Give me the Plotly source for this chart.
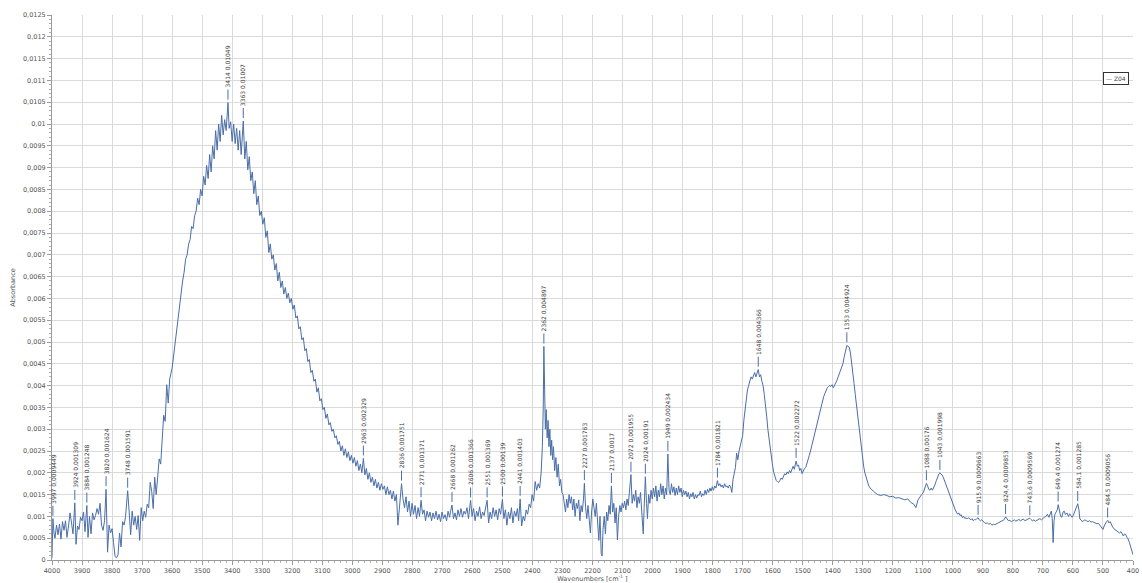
import plotly.graph_objects as go

# ---- spectrum data, (wavenumber cm-1, absorbance) ----
seg_4000_3600 = [
    (4000, 0.00005), (3997, 0.00095), (3993, 0.00060), (3990, 0.00050), (3985, 0.00080),
    (3980, 0.00058), (3975, 0.00082), (3970, 0.00048), (3965, 0.00088), (3960, 0.00068),
    (3955, 0.00090), (3950, 0.00052), (3945, 0.00078), (3940, 0.00108), (3935, 0.00085),
    (3930, 0.00060), (3924, 0.00131), (3920, 0.00036), (3915, 0.00078), (3910, 0.00070),
    (3905, 0.00098), (3900, 0.00090), (3895, 0.00110), (3890, 0.00065), (3884, 0.00125),
    (3880, 0.00052), (3875, 0.00100), (3870, 0.00060), (3865, 0.00108), (3860, 0.00092),
    (3855, 0.00102), (3850, 0.00118), (3845, 0.00105), (3840, 0.00130), (3835, 0.00080),
    (3830, 0.00068), (3825, 0.00090), (3820, 0.00162), (3815, 0.00018), (3810, 0.00080),
    (3805, 0.00062), (3800, 0.00072), (3795, 0.00040), (3790, 0.00008), (3785, 0.00005),
    (3780, 0.00012), (3775, 0.00062), (3770, 0.00030), (3765, 0.00088), (3760, 0.00080),
    (3755, 0.00100), (3748, 0.00159), (3743, 0.00110), (3738, 0.00058), (3733, 0.00112),
    (3728, 0.00080), (3723, 0.00100), (3718, 0.00070), (3713, 0.00102), (3708, 0.00045),
    (3703, 0.00120), (3698, 0.00090), (3693, 0.00112), (3688, 0.00098), (3683, 0.00128),
    (3678, 0.00120), (3673, 0.00178), (3668, 0.00158), (3663, 0.00118), (3658, 0.00190),
    (3653, 0.00150), (3648, 0.00200), (3643, 0.00232), (3638, 0.00220), (3633, 0.00270),
    (3628, 0.00332), (3623, 0.00318), (3618, 0.00402), (3613, 0.00360), (3608, 0.00415),
]

seg_3600_3100 = [
    (3600, 0.00440), (3595, 0.00470), (3590, 0.00500), (3585, 0.00530), (3580, 0.00555),
    (3575, 0.00590), (3570, 0.00610), (3565, 0.00640), (3560, 0.00660), (3555, 0.00690),
    (3550, 0.00700), (3545, 0.00725), (3540, 0.00735), (3535, 0.00765), (3530, 0.00760),
    (3525, 0.00790), (3520, 0.00800), (3515, 0.00830), (3510, 0.00815), (3505, 0.00850),
    (3500, 0.00835), (3495, 0.00880), (3490, 0.00860), (3485, 0.00905), (3480, 0.00875),
    (3475, 0.00930), (3470, 0.00890), (3465, 0.00950), (3460, 0.00920), (3455, 0.00985),
    (3450, 0.00940), (3445, 0.01000), (3440, 0.00960), (3435, 0.01020), (3430, 0.00975),
    (3425, 0.01010), (3420, 0.00985), (3414, 0.01049), (3410, 0.00990), (3405, 0.01005),
    (3400, 0.00960), (3395, 0.01000), (3390, 0.00955), (3385, 0.00990), (3380, 0.00940),
    (3375, 0.00985), (3370, 0.00930), (3363, 0.01007), (3358, 0.00920), (3353, 0.00960),
    (3348, 0.00895), (3343, 0.00925), (3338, 0.00870), (3333, 0.00890), (3328, 0.00840),
    (3323, 0.00870), (3318, 0.00815), (3313, 0.00835), (3308, 0.00790), (3303, 0.00800),
    (3298, 0.00770), (3293, 0.00785), (3288, 0.00740), (3283, 0.00755), (3278, 0.00705),
    (3273, 0.00725), (3268, 0.00690), (3263, 0.00700), (3258, 0.00665), (3253, 0.00680),
    (3248, 0.00640), (3243, 0.00660), (3238, 0.00625), (3233, 0.00640), (3228, 0.00610),
    (3223, 0.00625), (3218, 0.00600), (3213, 0.00612), (3208, 0.00590), (3203, 0.00600),
    (3198, 0.00575), (3193, 0.00585), (3188, 0.00555), (3183, 0.00560), (3178, 0.00530),
    (3173, 0.00535), (3168, 0.00505), (3163, 0.00510), (3158, 0.00480), (3153, 0.00485),
    (3148, 0.00455), (3143, 0.00460), (3138, 0.00430), (3133, 0.00435), (3128, 0.00410),
    (3123, 0.00415), (3118, 0.00385), (3113, 0.00395), (3108, 0.00365), (3103, 0.00370),
]

seg_3100_2400 = [
    (3098, 0.00345), (3093, 0.00350), (3088, 0.00325), (3083, 0.00335), (3078, 0.00310),
    (3073, 0.00315), (3068, 0.00295), (3063, 0.00300), (3058, 0.00280), (3053, 0.00285),
    (3048, 0.00265), (3043, 0.00272), (3038, 0.00250), (3033, 0.00262), (3028, 0.00240),
    (3023, 0.00255), (3018, 0.00235), (3013, 0.00248), (3008, 0.00228), (3003, 0.00240),
    (2998, 0.00222), (2993, 0.00235), (2988, 0.00215), (2983, 0.00228), (2978, 0.00205),
    (2973, 0.00220), (2968, 0.00200), (2963, 0.00233), (2958, 0.00195), (2953, 0.00210),
    (2948, 0.00185), (2943, 0.00200), (2938, 0.00178), (2933, 0.00190), (2928, 0.00170),
    (2923, 0.00185), (2918, 0.00165), (2913, 0.00178), (2908, 0.00160), (2903, 0.00175),
    (2898, 0.00162), (2893, 0.00170), (2888, 0.00150), (2883, 0.00168), (2878, 0.00150),
    (2873, 0.00160), (2868, 0.00140), (2863, 0.00158), (2858, 0.00135), (2853, 0.00150),
    (2848, 0.00080), (2843, 0.00130), (2836, 0.00175), (2831, 0.00140), (2826, 0.00120),
    (2821, 0.00145), (2816, 0.00110), (2811, 0.00135), (2806, 0.00100), (2801, 0.00130),
    (2796, 0.00105), (2791, 0.00125), (2786, 0.00095), (2781, 0.00120), (2776, 0.00100),
    (2771, 0.00137), (2766, 0.00105), (2761, 0.00115), (2756, 0.00090), (2751, 0.00112),
    (2746, 0.00098), (2741, 0.00110), (2736, 0.00090), (2731, 0.00108), (2726, 0.00095),
    (2721, 0.00112), (2716, 0.00092), (2711, 0.00105), (2706, 0.00088), (2701, 0.00110),
    (2696, 0.00095), (2691, 0.00104), (2686, 0.00090), (2681, 0.00112), (2676, 0.00098),
    (2673, 0.00110), (2668, 0.00126), (2663, 0.00095), (2658, 0.00108), (2653, 0.00092),
    (2648, 0.00115), (2643, 0.00100), (2638, 0.00118), (2633, 0.00098), (2628, 0.00112),
    (2623, 0.00105), (2618, 0.00120), (2613, 0.00095), (2606, 0.00137), (2601, 0.00100),
    (2596, 0.00118), (2591, 0.00090), (2586, 0.00112), (2581, 0.00100), (2576, 0.00122),
    (2571, 0.00095), (2566, 0.00110), (2561, 0.00102), (2556, 0.00120), (2551, 0.00137),
    (2546, 0.00085), (2541, 0.00110), (2536, 0.00095), (2531, 0.00120), (2526, 0.00100),
    (2521, 0.00115), (2516, 0.00092), (2511, 0.00118), (2506, 0.00105), (2500, 0.00139),
    (2495, 0.00095), (2490, 0.00115), (2485, 0.00080), (2480, 0.00110), (2475, 0.00095),
    (2470, 0.00120), (2465, 0.00085), (2460, 0.00112), (2455, 0.00100), (2450, 0.00118),
    (2446, 0.00090), (2441, 0.00140), (2436, 0.00078), (2431, 0.00100), (2426, 0.00090),
    (2421, 0.00115), (2416, 0.00105), (2411, 0.00128), (2406, 0.00120), (2401, 0.00150),
]

seg_2400_2000 = [
    (2396, 0.00135), (2391, 0.00180), (2386, 0.00160), (2381, 0.00175), (2376, 0.00165),
    (2371, 0.00200), (2367, 0.00260), (2364, 0.00350), (2362, 0.00490), (2360, 0.00380),
    (2357, 0.00300), (2354, 0.00345), (2351, 0.00280), (2348, 0.00320), (2345, 0.00260),
    (2342, 0.00300), (2339, 0.00240), (2336, 0.00275), (2333, 0.00230), (2330, 0.00260),
    (2326, 0.00205), (2322, 0.00235), (2318, 0.00190), (2314, 0.00220), (2310, 0.00170),
    (2306, 0.00185), (2302, 0.00155), (2298, 0.00150), (2294, 0.00125), (2290, 0.00110),
    (2286, 0.00140), (2282, 0.00120), (2278, 0.00150), (2274, 0.00130), (2270, 0.00145),
    (2266, 0.00115), (2262, 0.00140), (2258, 0.00100), (2254, 0.00130), (2250, 0.00118),
    (2246, 0.00138), (2242, 0.00090), (2238, 0.00125), (2234, 0.00110), (2230, 0.00140),
    (2227, 0.00176), (2223, 0.00120), (2219, 0.00095), (2215, 0.00125), (2211, 0.00080),
    (2207, 0.00062), (2203, 0.00110), (2199, 0.00140), (2195, 0.00120), (2191, 0.00100),
    (2187, 0.00130), (2183, 0.00085), (2179, 0.00045), (2175, 0.00100), (2171, 0.00015),
    (2168, 0.00009), (2165, 0.00070), (2161, 0.00100), (2157, 0.00060), (2153, 0.00110),
    (2149, 0.00090), (2145, 0.00125), (2141, 0.00105), (2137, 0.00170), (2133, 0.00110),
    (2129, 0.00130), (2125, 0.00085), (2121, 0.00120), (2117, 0.00046), (2113, 0.00100),
    (2109, 0.00125), (2105, 0.00110), (2101, 0.00130), (2097, 0.00120), (2093, 0.00135),
    (2089, 0.00115), (2085, 0.00140), (2081, 0.00125), (2077, 0.00150), (2072, 0.00196),
    (2068, 0.00130), (2064, 0.00150), (2060, 0.00135), (2056, 0.00160), (2052, 0.00120),
    (2048, 0.00145), (2044, 0.00130), (2040, 0.00155), (2036, 0.00110), (2031, 0.00060),
    (2028, 0.00120), (2024, 0.00191), (2020, 0.00130), (2017, 0.00095), (2013, 0.00150),
    (2009, 0.00130), (2005, 0.00160), (2001, 0.00140),
]

seg_2000_1300 = [
    (1997, 0.00165), (1993, 0.00145), (1989, 0.00170), (1985, 0.00135), (1981, 0.00160),
    (1977, 0.00145), (1973, 0.00175), (1969, 0.00150), (1965, 0.00170), (1961, 0.00140),
    (1957, 0.00165), (1953, 0.00150), (1949, 0.00243), (1945, 0.00160), (1941, 0.00150),
    (1937, 0.00175), (1933, 0.00155), (1929, 0.00168), (1925, 0.00148), (1921, 0.00165),
    (1917, 0.00150), (1913, 0.00170), (1909, 0.00155), (1905, 0.00165), (1901, 0.00145),
    (1897, 0.00160), (1893, 0.00150), (1889, 0.00158), (1885, 0.00145), (1881, 0.00155),
    (1877, 0.00140), (1873, 0.00152), (1869, 0.00145), (1865, 0.00155), (1861, 0.00140),
    (1857, 0.00150), (1853, 0.00142), (1849, 0.00150), (1845, 0.00148), (1841, 0.00158),
    (1837, 0.00145), (1833, 0.00152), (1829, 0.00148), (1825, 0.00160), (1821, 0.00150),
    (1817, 0.00162), (1813, 0.00155), (1809, 0.00165), (1805, 0.00158), (1801, 0.00168),
    (1797, 0.00160), (1793, 0.00170), (1789, 0.00165), (1784, 0.00182), (1780, 0.00170),
    (1776, 0.00175), (1772, 0.00168), (1768, 0.00172), (1764, 0.00165), (1760, 0.00175),
    (1756, 0.00168), (1752, 0.00170), (1748, 0.00165), (1744, 0.00172), (1740, 0.00168),
    (1736, 0.00155), (1732, 0.00185), (1728, 0.00200), (1724, 0.00212), (1720, 0.00245),
    (1716, 0.00230), (1712, 0.00250), (1708, 0.00262), (1704, 0.00275), (1700, 0.00285),
    (1696, 0.00320), (1692, 0.00345), (1688, 0.00365), (1684, 0.00390), (1680, 0.00400),
    (1676, 0.00410), (1672, 0.00420), (1668, 0.00415), (1664, 0.00425), (1660, 0.00430),
    (1656, 0.00420), (1652, 0.00430), (1648, 0.00437), (1644, 0.00420), (1640, 0.00425),
    (1636, 0.00410), (1632, 0.00400), (1628, 0.00380), (1624, 0.00360), (1620, 0.00330),
    (1616, 0.00300), (1612, 0.00275), (1608, 0.00255), (1604, 0.00235), (1600, 0.00215),
    (1596, 0.00200), (1592, 0.00190), (1588, 0.00182), (1584, 0.00180), (1580, 0.00178),
    (1576, 0.00182), (1572, 0.00188), (1568, 0.00185), (1564, 0.00192), (1560, 0.00198),
    (1556, 0.00195), (1552, 0.00202), (1548, 0.00198), (1544, 0.00205), (1540, 0.00200),
    (1536, 0.00210), (1532, 0.00215), (1528, 0.00208), (1522, 0.00227), (1518, 0.00215),
    (1514, 0.00218), (1510, 0.00205), (1506, 0.00210), (1502, 0.00198), (1498, 0.00205),
    (1494, 0.00210), (1490, 0.00212), (1486, 0.00220), (1482, 0.00228), (1478, 0.00240),
    (1474, 0.00250), (1470, 0.00262), (1466, 0.00272), (1462, 0.00285), (1458, 0.00295),
    (1454, 0.00305), (1450, 0.00318), (1446, 0.00330), (1442, 0.00342), (1438, 0.00352),
    (1434, 0.00365), (1430, 0.00375), (1426, 0.00382), (1422, 0.00390), (1418, 0.00395),
    (1414, 0.00398), (1410, 0.00400), (1406, 0.00398), (1402, 0.00402), (1398, 0.00395),
    (1394, 0.00400), (1390, 0.00405), (1386, 0.00412), (1382, 0.00420), (1378, 0.00428),
    (1374, 0.00435), (1370, 0.00440), (1366, 0.00450), (1362, 0.00465), (1358, 0.00480),
    (1353, 0.00492), (1349, 0.00490), (1345, 0.00488), (1341, 0.00475), (1337, 0.00455),
    (1333, 0.00430), (1329, 0.00405), (1325, 0.00380), (1321, 0.00355), (1317, 0.00330),
    (1313, 0.00305), (1309, 0.00280), (1305, 0.00255), (1301, 0.00235),
]

seg_1300_400 = [
    (1297, 0.00215), (1293, 0.00200), (1289, 0.00190), (1285, 0.00180), (1280, 0.00170),
    (1275, 0.00165), (1270, 0.00160), (1265, 0.00158), (1260, 0.00155), (1255, 0.00152),
    (1250, 0.00150), (1240, 0.00148), (1230, 0.00150), (1220, 0.00148), (1210, 0.00145),
    (1200, 0.00146), (1190, 0.00142), (1180, 0.00143), (1170, 0.00140), (1160, 0.00138),
    (1150, 0.00140), (1140, 0.00132), (1130, 0.00128), (1123, 0.00120), (1116, 0.00138),
    (1110, 0.00145), (1104, 0.00150), (1098, 0.00155), (1092, 0.00165), (1088, 0.00176),
    (1084, 0.00170), (1080, 0.00162), (1076, 0.00160), (1072, 0.00165), (1068, 0.00160),
    (1064, 0.00165), (1060, 0.00172), (1055, 0.00182), (1050, 0.00192), (1046, 0.00198),
    (1043, 0.00200), (1040, 0.00198), (1036, 0.00195), (1032, 0.00190), (1028, 0.00182),
    (1024, 0.00175), (1020, 0.00168), (1016, 0.00160), (1012, 0.00152), (1008, 0.00145),
    (1004, 0.00138), (1000, 0.00130), (996, 0.00122), (992, 0.00115), (988, 0.00110),
    (984, 0.00105), (980, 0.00108), (976, 0.00102), (972, 0.00104), (968, 0.00097),
    (964, 0.00100), (960, 0.00095), (956, 0.00097), (952, 0.00094), (948, 0.00097),
    (944, 0.00095), (940, 0.00092), (936, 0.00095), (932, 0.00090), (928, 0.00093),
    (924, 0.00092), (920, 0.00095), (916, 0.00097), (912, 0.00092), (908, 0.00090),
    (904, 0.00092), (900, 0.00088), (895, 0.00086), (890, 0.00084), (885, 0.00085),
    (880, 0.00082), (875, 0.00084), (870, 0.00080), (865, 0.00082), (860, 0.00081),
    (855, 0.00083), (850, 0.00084), (845, 0.00086), (840, 0.00088), (835, 0.00090),
    (830, 0.00092), (824, 0.00099), (820, 0.00094), (815, 0.00090), (810, 0.00091),
    (805, 0.00088), (800, 0.00090), (795, 0.00092), (790, 0.00089), (785, 0.00091),
    (780, 0.00093), (775, 0.00090), (770, 0.00092), (765, 0.00094), (760, 0.00090),
    (755, 0.00092), (750, 0.00094), (744, 0.00096), (740, 0.00093), (735, 0.00090),
    (730, 0.00092), (725, 0.00089), (720, 0.00091), (715, 0.00093), (710, 0.00095),
    (705, 0.00092), (700, 0.00096), (695, 0.00098), (690, 0.00100), (685, 0.00105),
    (680, 0.00098), (676, 0.00108), (672, 0.00112), (669, 0.00095), (666, 0.00040),
    (663, 0.00090), (660, 0.00105), (656, 0.00110), (652, 0.00115), (649, 0.00127),
    (645, 0.00108), (641, 0.00100), (637, 0.00098), (633, 0.00110), (629, 0.00112),
    (625, 0.00104), (620, 0.00108), (615, 0.00100), (611, 0.00106), (607, 0.00100),
    (603, 0.00098), (599, 0.00102), (595, 0.00110), (591, 0.00118), (588, 0.00125),
    (584, 0.00129), (580, 0.00115), (577, 0.00094), (573, 0.00092), (569, 0.00088),
    (565, 0.00090), (560, 0.00092), (555, 0.00090), (550, 0.00088), (545, 0.00090),
    (540, 0.00087), (535, 0.00088), (530, 0.00086), (525, 0.00085), (520, 0.00083),
    (515, 0.00084), (510, 0.00080), (505, 0.00075), (500, 0.00070), (496, 0.00078),
    (492, 0.00085), (488, 0.00088), (484, 0.00091), (480, 0.00085), (476, 0.00088),
    (472, 0.00080), (468, 0.00076), (464, 0.00072), (460, 0.00070), (455, 0.00068),
    (450, 0.00066), (445, 0.00062), (440, 0.00065), (436, 0.00058), (432, 0.00055),
    (428, 0.00060), (424, 0.00058), (420, 0.00052), (416, 0.00048), (412, 0.00040),
    (408, 0.00030), (404, 0.00018), (400, 0.00012),
]

# ---- labelled peaks ----
peak_wavenumbers = [3997, 3924, 3884, 3820, 3748, 3414, 3363, 2963, 2836, 2771, 2668, 2606,
                    2551, 2500, 2441, 2362, 2227, 2137, 2072, 2024, 1949, 1784, 1648, 1522,
                    1353, 1088, 1043, 915.9, 824.4, 743.6, 649.4, 584.1, 484.5]
peak_values = [0.0009449, 0.001309, 0.001248, 0.001624, 0.001591, 0.01049, 0.01007, 0.002329,
               0.001751, 0.001371, 0.001262, 0.001366, 0.001369, 0.00139, 0.001403, 0.004897,
               0.001763, 0.0017, 0.001955, 0.00191, 0.002434, 0.001821, 0.004366, 0.002272,
               0.004924, 0.00176, 0.001998, 0.0009663, 0.0009853, 0.0009569, 0.001274,
               0.001285, 0.0009056]
peak_labels = ["3997 0,0009449", "3924 0,001309", "3884 0,001248", "3820 0,001624",
               "3748 0,001591", "3414 0,01049", "3363 0,01007", "2963 0,002329",
               "2836 0,001751", "2771 0,001371", "2668 0,001262", "2606 0,001366",
               "2551 0,001369", "2500 0,00139", "2441 0,001403", "2362 0,004897",
               "2227 0,001763", "2137 0,0017", "2072 0,001955", "2024 0,00191",
               "1949 0,002434", "1784 0,001821", "1648 0,004366", "1522 0,002272",
               "1353 0,004924", "1088 0,00176", "1043 0,001998", "915,9 0,0009663",
               "824,4 0,0009853", "743,6 0,0009569", "649,4 0,001274", "584,1 0,001285",
               "484,5 0,0009056"]

# ---- axes ----
x_tick_values = [4000, 3900, 3800, 3700, 3600, 3500, 3400, 3300, 3200, 3100, 3000, 2900,
                 2800, 2700, 2600, 2500, 2400, 2300, 2200, 2100, 2000, 1900, 1800, 1700,
                 1600, 1500, 1400, 1300, 1200, 1100, 1000, 900, 800, 700, 600, 500, 400]
y_tick_values = [0, 0.0005, 0.001, 0.0015, 0.002, 0.0025, 0.003, 0.0035, 0.004, 0.0045,
                 0.005, 0.0055, 0.006, 0.0065, 0.007, 0.0075, 0.008, 0.0085, 0.009, 0.0095,
                 0.01, 0.0105, 0.011, 0.0115, 0.012, 0.0125]
y_tick_labels = ["0", "0,0005", "0,001", "0,0015", "0,002", "0,0025", "0,003", "0,0035",
                 "0,004", "0,0045", "0,005", "0,0055", "0,006", "0,0065", "0,007", "0,0075",
                 "0,008", "0,0085", "0,009", "0,0095", "0,01", "0,0105", "0,011", "0,0115",
                 "0,012", "0,0125"]
series_name = "Z04"

LINE = "#4a6ea9"
FONT = "DejaVu Sans"
LABEL_SIZE = 6


def label_length(s):
    """approximate rendered length (px) of a label in DejaVu Sans at LABEL_SIZE"""
    w = 0.0
    for ch in s:
        w += 0.30 if ch in ", " else 0.61
    return w * LABEL_SIZE


points = seg_4000_3600 + seg_3600_3100 + seg_3100_2400 + seg_2400_2000 + seg_2000_1300 + seg_1300_400
wavenumber = [p[0] for p in points]
absorbance = [p[1] for p in points]

fig = go.Figure()
fig.add_trace(go.Scatter(x=wavenumber, y=absorbance, mode="lines", name=series_name,
                         line=dict(color=LINE, width=1), showlegend=False))

for wn, val, lab in zip(peak_wavenumbers, peak_values, peak_labels):
    # short marker line just above the peak
    fig.add_shape(type="line", xref="x", yref="y", x0=wn, x1=wn,
                  ysizemode="pixel", yanchor=val, y0=3, y1=13,
                  line=dict(color=LINE, width=1))
    # vertical label above the marker
    fig.add_annotation(x=wn, y=val, text=lab, textangle=-90, showarrow=False,
                       xanchor="center", yanchor="middle",
                       yshift=16 + label_length(lab) / 2,
                       font=dict(size=LABEL_SIZE, color="#3a3a3a", family=FONT))

# legend box
fig.add_annotation(xref="paper", yref="paper", x=1, y=0.884, xanchor="right", yanchor="middle",
                   xshift=-4, showarrow=False,
                   text="<span style='color:%s'>—</span> %s" % (LINE, series_name),
                   font=dict(size=6, color="#444444", family=FONT),
                   bgcolor="white", bordercolor="#333333", borderwidth=1, borderpad=2)

fig.update_layout(
    width=1142, height=583,
    margin=dict(l=52, r=9, t=15, b=23),
    paper_bgcolor="white", plot_bgcolor="white",
    font=dict(family=FONT, size=7, color="#555555"),
    showlegend=False,
)
fig.update_xaxes(
    range=[4000, 400], tickvals=x_tick_values, ticktext=[str(v) for v in x_tick_values],
    showgrid=True, gridcolor="#dadada", gridwidth=1, zeroline=False,
    showline=True, linecolor="#9a9a9a", linewidth=1,
    ticks="outside", ticklen=4, tickcolor="#9a9a9a",
    minor=dict(dtick=20, ticklen=2, tickcolor="#b0b0b0", ticks="outside", showgrid=False),
    tickfont=dict(size=6.5, color="#555555", family=FONT),
    title=dict(text="Wavenumbers [cm<sup>-1</sup> ]", font=dict(size=6.5, color="#555555", family=FONT), standoff=0),
    automargin=False,
)
fig.update_yaxes(
    range=[0, 0.0125], tickvals=y_tick_values, ticktext=y_tick_labels,
    showgrid=True, gridcolor="#dadada", gridwidth=1, zeroline=False,
    showline=True, linecolor="#9a9a9a", linewidth=1,
    ticks="outside", ticklen=4, tickcolor="#9a9a9a",
    minor=dict(dtick=0.0001, ticklen=2, tickcolor="#b0b0b0", ticks="outside", showgrid=False),
    tickfont=dict(size=6.5, color="#555555", family=FONT),
    title=dict(text="Absorbance", font=dict(size=6.5, color="#555555", family=FONT), standoff=6),
    automargin=False,
)

fig.write_html("out.html", config={"displayModeBar": False},
               post_script="document.body.style.margin='0';document.body.style.overflow='hidden';")
